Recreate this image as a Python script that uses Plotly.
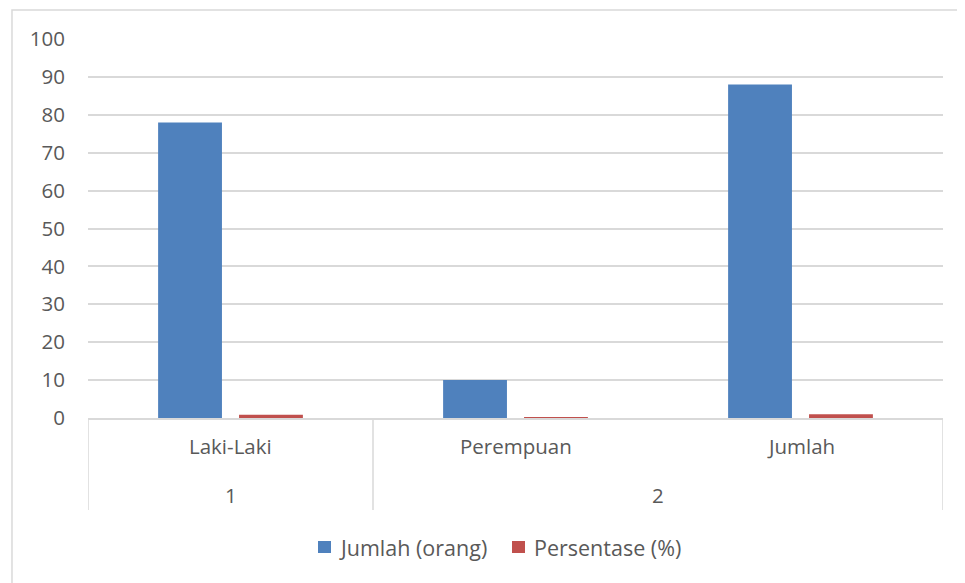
import plotly.graph_objects as go

categories = ["Laki-Laki", "Perempuan", "Jumlah"]
groups = ["1", "2"]
group_members = [[0], [1, 2]]
jumlah_orang = [78, 10, 88]
persentase = [0.89, 0.11, 1.0]
y_ticks = [0, 10, 20, 30, 40, 50, 60, 70, 80, 90, 100]
series_names = ["Jumlah (orang)", "Persentase (%)"]
series_colors = ["#4f81bd", "#c0504d"]

FONT = "Open Sans"
TXT = "#595959"
GRID = "#d9d9d9"

fig = go.Figure()
fig.add_trace(go.Bar(
    x=categories, y=jumlah_orang, name=series_names[0],
    marker=dict(color=series_colors[0], line=dict(width=0)),
    width=0.224, offset=-0.254,
))
fig.add_trace(go.Bar(
    x=categories, y=persentase, name=series_names[1],
    marker=dict(color=series_colors[1], line=dict(width=0)),
    width=0.224, offset=0.030,
))

shapes = []
# outer chart border (cut off at right and bottom like the reference)
shapes.append(dict(type="rect", xref="paper", yref="paper",
                   x0=-0.0889, x1=1.06, y0=-0.50, y1=1.0765,
                   line=dict(color=GRID, width=1.5), layer="below"))
# category axis dividers
div_y1 = -0.2427
for xv in [-0.5, 0.5, 2.5]:
    shapes.append(dict(type="line", xref="x", yref="paper",
                       x0=xv, x1=xv, y0=0, y1=div_y1,
                       line=dict(color=GRID, width=1.5)))

annotations = []
for i, c in enumerate(categories):
    annotations.append(dict(x=i, y=-0.0739, xref="x", yref="paper",
                            text=c, showarrow=False, yanchor="middle",
                            font=dict(family=FONT, size=20.5, color=TXT)))
for g, members in zip(groups, group_members):
    xc = sum(members) / len(members)
    annotations.append(dict(x=xc, y=-0.203, xref="x", yref="paper",
                            text=g, showarrow=False, yanchor="middle",
                            font=dict(family=FONT, size=20.5, color=TXT)))

# manual legend
leg_sq_x0 = [0.269, 0.4959]
leg_sq_w = 0.0152
leg_txt_x = [0.2912, 0.5193]
for name, col, sx, tx in zip(series_names, series_colors, leg_sq_x0, leg_txt_x):
    shapes.append(dict(type="rect", xref="paper", yref="paper",
                       x0=sx, x1=sx + leg_sq_w, y0=-0.3562, y1=-0.3245,
                       fillcolor=col, line=dict(width=0)))
    annotations.append(dict(x=tx, y=-0.3404, xref="paper", yref="paper",
                            text=name, showarrow=False, xanchor="left",
                            yanchor="middle",
                            font=dict(family=FONT, size=21.5, color=TXT)))

fig.update_layout(
    width=965, height=583,
    margin=dict(l=80, r=30, t=31, b=173),
    paper_bgcolor="white", plot_bgcolor="white",
    barmode="group",
    showlegend=False,
    xaxis=dict(type="category", range=[-0.5, 2.5], showticklabels=False,
               showgrid=False, showline=True, linecolor=GRID, linewidth=1.5,
               ticks="", zeroline=False, fixedrange=True),
    yaxis=dict(range=[0, 100], tickvals=y_ticks, showgrid=True, gridcolor=GRID,
               gridwidth=1.5, zeroline=False, showline=False, ticks="",
               ticklabelstandoff=22,
               tickfont=dict(family=FONT, size=20.5, color=TXT)),
    shapes=shapes, annotations=annotations,
    font=dict(family=FONT, color=TXT),
)

fig.write_html("out.html")
